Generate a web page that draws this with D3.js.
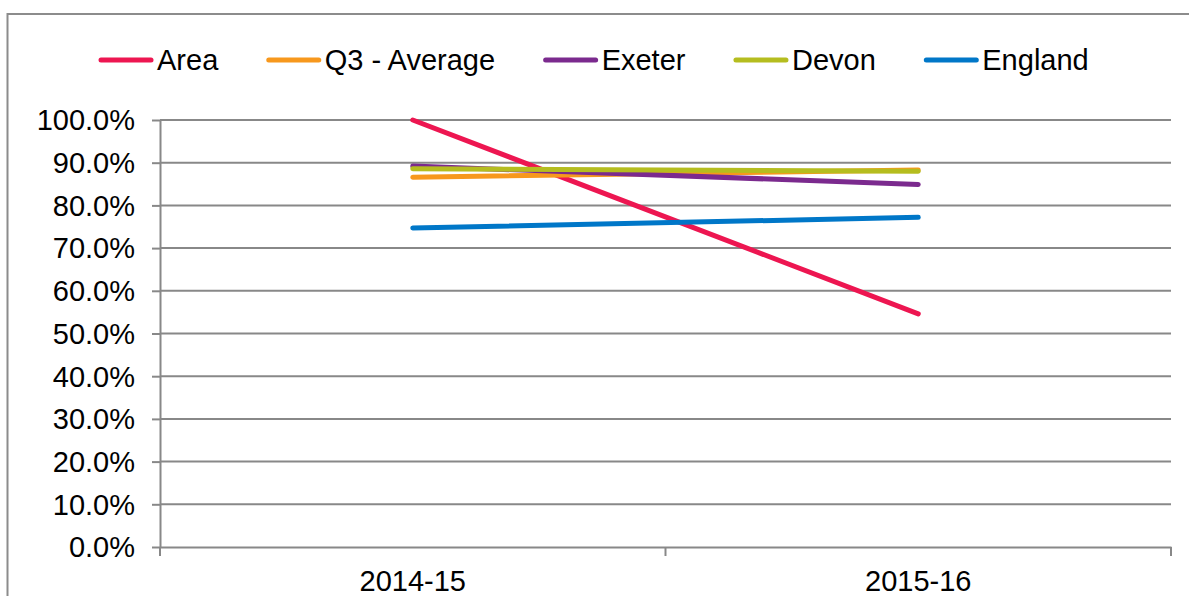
<!DOCTYPE html>
<html>
<head>
<meta charset="utf-8">
<script src="https://cdn.jsdelivr.net/npm/d3@7/dist/d3.min.js"></script>
<style>
  html, body { margin: 0; padding: 0; background: #fff; }
  svg { display: block; }
  text { font-family: "Liberation Sans", Arial, sans-serif; fill: #000; }
</style>
</head>
<body>
<svg id="chart" width="1189" height="596"></svg>
<script>
// Periods on the x axis
const categories = ["2014-15", "2015-16"];

// Series values (proportions)
const areaValues    = [1.000, 0.546];
const q3Values      = [0.866, 0.883];
const exeterValues  = [0.892, 0.849];
const devonValues   = [0.886, 0.880];
const englandValues = [0.747, 0.772];

const seriesNames  = ["Area", "Q3 - Average", "Exeter", "Devon", "England"];
const seriesColors = ["#ED1651", "#F7981D", "#7B2A8E", "#B5BD1F", "#0077C8"];

// Y axis tick values
const yTicks = [0, 0.1, 0.2, 0.3, 0.4, 0.5, 0.6, 0.7, 0.8, 0.9, 1.0];

const series = [areaValues, q3Values, exeterValues, devonValues, englandValues]
  .map((vals, i) => ({ name: seriesNames[i], color: seriesColors[i],
                       points: vals.map((v, j) => ({ cat: categories[j], v })) }));

const svg = d3.select("#chart");
const plot = { left: 160, right: 1171, top: 120, bottom: 547 };
const gridColor = "#888888";
const fontSize = 29;

// Outer chart frame (extends past the visible edges)
svg.append("rect")
  .attr("x", 7.5).attr("y", 14)
  .attr("width", 1300).attr("height", 700)
  .attr("fill", "none").attr("stroke", "#8c8c8c").attr("stroke-width", 2);

const x = d3.scaleBand().domain(categories).range([plot.left, plot.right]);
const y = d3.scaleLinear().domain([0, 1]).range([plot.bottom, plot.top]);

// Horizontal gridlines
svg.append("g")
  .selectAll("line")
  .data(yTicks.filter(t => t > 0))
  .join("line")
  .attr("x1", plot.left).attr("x2", plot.right)
  .attr("y1", d => y(d)).attr("y2", d => y(d))
  .attr("stroke", gridColor).attr("stroke-width", 2);

// Y axis
const yAxis = svg.append("g")
  .attr("transform", `translate(${plot.left},0)`)
  .call(d3.axisLeft(y).tickValues(yTicks).tickFormat(d3.format(".1%"))
        .tickSize(8).tickSizeOuter(0).tickPadding(17));
yAxis.select(".domain").attr("stroke", gridColor).attr("stroke-width", 2);
yAxis.selectAll(".tick line").attr("stroke", gridColor).attr("stroke-width", 2);
yAxis.selectAll(".tick text")
  .attr("font-size", fontSize).attr("dy", "0.34em")
  .style("font-family", "'Liberation Sans', Arial, sans-serif").attr("fill", "#000");

// X axis with tick marks on the band boundaries
const xAxis = svg.append("g")
  .attr("transform", `translate(0,${plot.bottom})`)
  .call(d3.axisBottom(x).tickSize(0).tickPadding(23));
xAxis.select(".domain").attr("stroke", gridColor).attr("stroke-width", 2);
xAxis.selectAll(".tick text")
  .attr("font-size", fontSize)
  .style("font-family", "'Liberation Sans', Arial, sans-serif").attr("fill", "#000");

const boundaries = categories.map(c => x(c)).concat([x(categories[categories.length - 1]) + x.bandwidth()]);
xAxis.selectAll("line.btick")
  .data(boundaries)
  .join("line")
  .attr("class", "btick")
  .attr("x1", d => d).attr("x2", d => d)
  .attr("y1", 0).attr("y2", 9)
  .attr("stroke", gridColor).attr("stroke-width", 2);

// Series lines
const line = d3.line()
  .x(d => x(d.cat) + x.bandwidth() / 2)
  .y(d => y(d.v));

svg.append("g")
  .selectAll("path")
  .data(series)
  .join("path")
  .attr("d", d => line(d.points))
  .attr("fill", "none")
  .attr("stroke", d => d.color)
  .attr("stroke-width", 5)
  .attr("stroke-linecap", "round");

// Legend
const legend = svg.append("g").attr("transform", "translate(99,60)");
let cursor = 0;
series.forEach(s => {
  const item = legend.append("g").attr("transform", `translate(${cursor},0)`);
  item.append("line")
    .attr("x1", 2).attr("x2", 52).attr("y1", 0).attr("y2", 0)
    .attr("stroke", s.color).attr("stroke-width", 5).attr("stroke-linecap", "round");
  const t = item.append("text")
    .attr("x", 58).attr("y", 10)
    .attr("font-size", fontSize)
    .text(s.name);
  cursor += 58 + t.node().getComputedTextLength() + 48.5;
});
</script>
</body>
</html>
